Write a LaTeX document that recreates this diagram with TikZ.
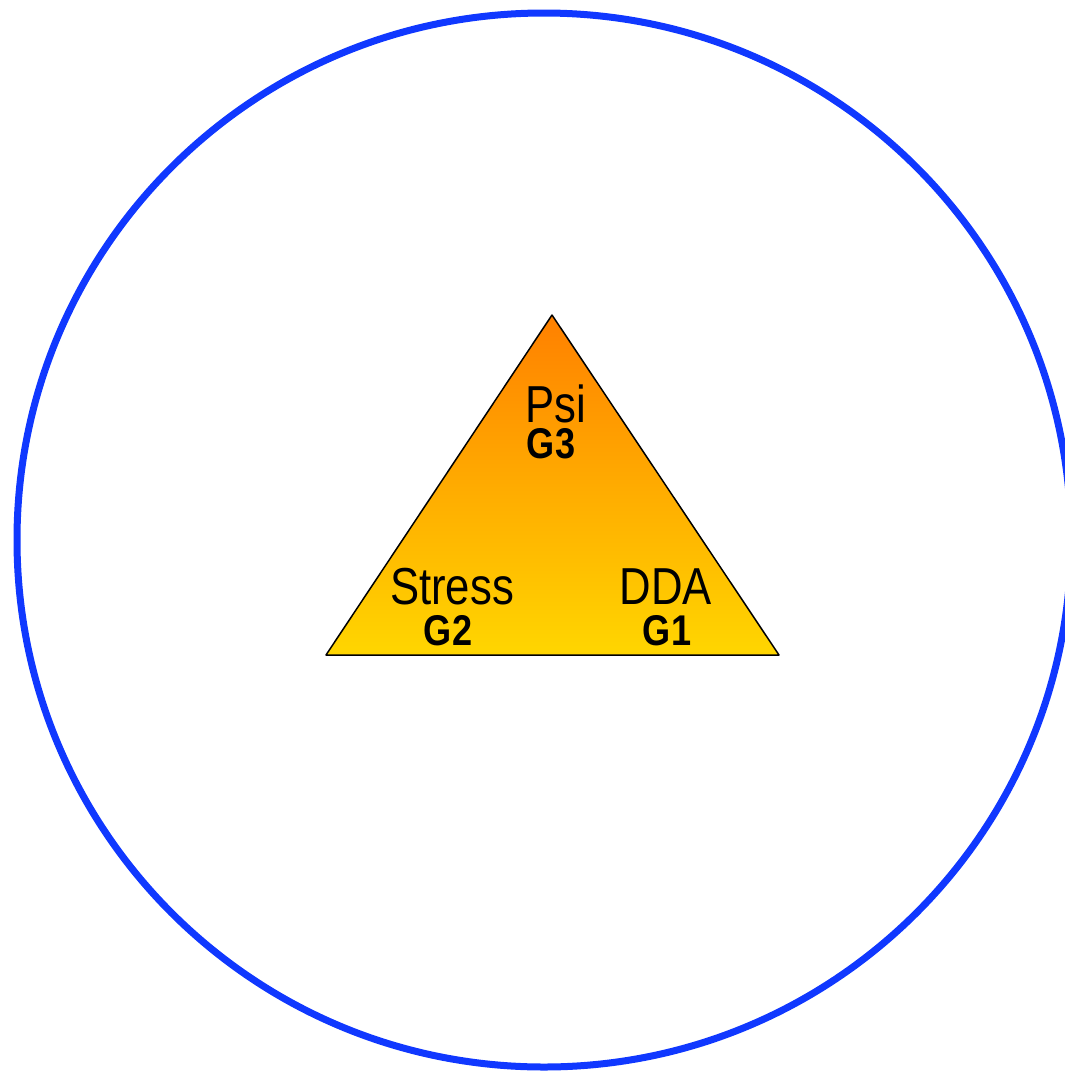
\documentclass[tikz,border=0pt]{standalone}
\usepackage{fontspec}
\setmainfont{Liberation Sans}
\newfontfamily\narrowsf[FakeStretch=0.84]{Liberation Sans}
\definecolor{ringblue}{RGB}{16,56,255}
\definecolor{toporange}{RGB}{255,128,0}
\definecolor{basegold}{RGB}{255,214,0}
\tikzset{
  grouplabel/.style={anchor=base, inner sep=0pt, text depth=0pt, font=\narrowsf\fontsize{52}{52}\selectfont},
  groupcode/.style={anchor=base, inner sep=0pt, text height=29pt, font=\narrowsf\bfseries\fontsize{43}{43}\selectfont}
}
\begin{document}
\begin{tikzpicture}[x=1pt, y=-1pt]
    \useasboundingbox (0,0) rectangle (1065,1071);
    \clip (0,0) rectangle (1065,1071);

    % Umgebender Kreis
    \draw[ringblue, line width=7pt] (544,540) circle (527);

    % Dreieck mit Farbverlauf
    \coordinate (apex) at (552,315);
    \coordinate (left) at (326,655);
    \coordinate (right) at (779,655);
    \shade[top color=toporange, bottom color=basegold, draw=black, line width=1.5pt, line join=round]
        (apex) -- (left) -- (right) -- cycle;

    % Beschriftungen der Ecken
    \node[grouplabel] (psi) at (556,422) {Psi};
    \node[groupcode] (g3) at (551,458) {G3};
    \node[grouplabel] (stress) at (452,604) {Stress};
    \node[groupcode] (g2) at (448,645) {G2};
    \node[grouplabel] (dda) at (666,604) {DDA};
    \node[groupcode] (g1) at (667,645) {G1};
\end{tikzpicture}
\end{document}
